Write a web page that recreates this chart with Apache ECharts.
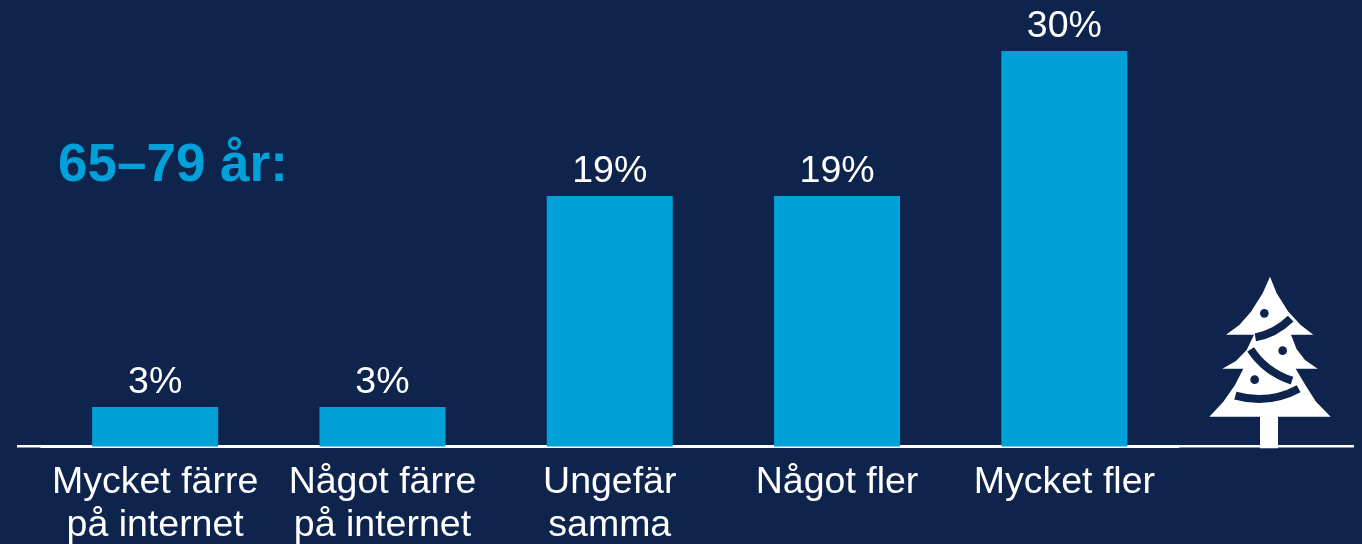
<!DOCTYPE html>
<html><head><meta charset="utf-8">
<style>html,body{margin:0;padding:0;background:#0f244d;overflow:hidden}#c{width:1362px;height:544px}</style>
<script src="https://cdn.jsdelivr.net/npm/echarts@6/dist/echarts.min.js"></script>
</head><body><div id="c"></div>
<script>
const categories = ["Mycket färre\npå internet","Något färre\npå internet","Ungefär\nsamma","Något fler","Mycket fler"];
const values = [3,3,19,19,30];
const heading = "65–79 år:";
const navy = "#0f244d", blue = "#00a0d9", white = "#ffffff";
const treeOutline = [[270,50],[248,100],[213,155],[178,195],[138,224],[222,224],[200,270],[168,303],[127,326],[190,326],[165,375],[130,425],[88,470],[240,470],[240,565],[294,565],[294,470],[452,470],[408,425],[376,375],[347,326],[413,326],[375,300],[350,268],[333,224],[400,224],[362,195],[325,155],[290,100]];
const chart = echarts.init(document.getElementById('c'),null,{renderer:'canvas'});
const font = '"Liberation Sans", Arial, sans-serif';
const stripe = (x1,y1,cpx1,cpy1,x2,y2)=>({type:'bezierCurve',shape:{x1,y1,cpx1,cpy1,x2,y2},style:{fill:null,stroke:navy,lineWidth:24}});
const dot = (cx,cy)=>({type:'circle',shape:{cx,cy,r:13},style:{fill:navy}});
chart.setOption({
  backgroundColor: navy,
  animation:false,
  title:{text:heading,left:53,top:135,textStyle:{color:blue,fontFamily:font,fontWeight:'bold',fontSize:53}},
  grid:{left:41.5,top:51,width:1136.5,height:395.5,outerBoundsMode:'none'},
  xAxis:{type:'category',data:categories,axisTick:{show:false},
    axisLine:{show:true,lineStyle:{color:white,width:3}},
    axisLabel:{color:white,fontFamily:font,fontSize:37.5,lineHeight:43,margin:15,interval:0}},
  yAxis:{type:'value',min:0,max:30,show:false},
  series:[{type:'bar',data:values,barWidth:126,itemStyle:{color:blue},
    label:{show:true,position:'top',distance:5,color:white,fontFamily:font,fontSize:37.5,formatter:p=>p.value+'%'}}],
  graphic:[
    {type:'rect',shape:{x:17,y:445,width:1337,height:2.5},style:{fill:white},z:1},
    {type:'group',x:1180,y:260,scaleX:1/3,scaleY:1/3,z:5,children:[
      {type:'polygon',shape:{points:treeOutline},style:{fill:white}},
      dot(253,160),dot(308,272),dot(224,359),
      stripe(226,232,285,222,332,176),
      stripe(212,268,255,335,336,362),
      stripe(166,407,265,435,356,386)
    ]}
  ]
});
</script></body></html>
